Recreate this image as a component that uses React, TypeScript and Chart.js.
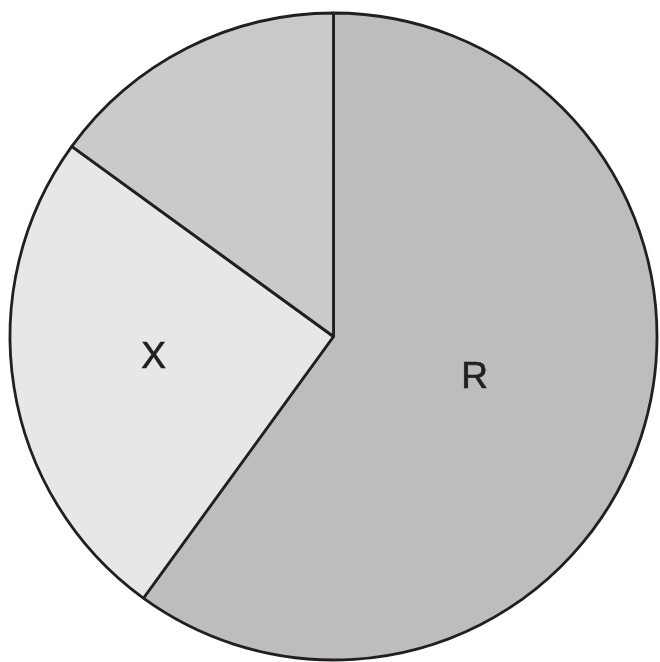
import React, { useEffect, useRef } from "react";
import { Chart, registerables } from "chart.js";

Chart.register(...registerables);

const categories = ["R", "X", ""];
const values = [60, 25, 15];
const sliceLabels = ["R", "X", ""];

const colors = ["#bcbdbf", "#e6e7e8", "#c8cacc"];
const labelRadiusFrac = [0.452, 0.559, 0.6];
const labelAngleShiftDeg = [-2.9, 3.2, 0];

const sliceLabelPlugin = {
  id: "sliceLabels",
  afterDatasetsDraw(chart: any) {
    const ctx = chart.ctx;
    const meta = chart.getDatasetMeta(0);
    ctx.save();
    const size = 37;
    ctx.font = `${size}px 'Liberation Sans', Arial, sans-serif`;
    ctx.fillStyle = "#231f20";
    ctx.strokeStyle = "#231f20";
    ctx.lineWidth = 0.7;
    ctx.textAlign = "center";
    ctx.textBaseline = "alphabetic";
    meta.data.forEach((arc: any, i: number) => {
      const text = sliceLabels[i];
      if (!text) return;
      const { x, y, startAngle, endAngle, outerRadius } = arc.getProps(
        ["x", "y", "startAngle", "endAngle", "outerRadius"],
        true
      );
      const mid = (startAngle + endAngle) / 2 + (labelAngleShiftDeg[i] * Math.PI) / 180;
      const r = outerRadius * labelRadiusFrac[i];
      const cx = x + Math.cos(mid) * r;
      const cy = y + Math.sin(mid) * r + size * 0.358;
      ctx.fillText(text, cx, cy);
      ctx.strokeText(text, cx, cy);
    });
    ctx.restore();
  },
};

export default function App() {
  const ref = useRef<HTMLCanvasElement | null>(null);
  useEffect(() => {
    if (!ref.current) return;
    const chart = new Chart(ref.current, {
      type: "pie",
      data: {
        labels: categories,
        datasets: [
          {
            data: values,
            backgroundColor: colors,
            borderColor: "#231f20",
            borderWidth: 2.8,
          },
        ],
      },
      options: {
        animation: false,
        responsive: false,
        maintainAspectRatio: false,
        radius: 323.5,
        layout: { padding: { left: 7, top: 11, right: 0, bottom: 0 } },
        plugins: {
          legend: { display: false },
          tooltip: { enabled: false },
          title: { display: false },
        },
      },
      plugins: [sliceLabelPlugin],
    });
    return () => chart.destroy();
  }, []);
  return (
    <div style={{ position: "absolute", left: 0, top: 0, width: 660, height: 662, background: "#fff" }}>
      <canvas ref={ref} width={660} height={662} style={{ display: "block", width: 660, height: 662 }} />
    </div>
  );
}
